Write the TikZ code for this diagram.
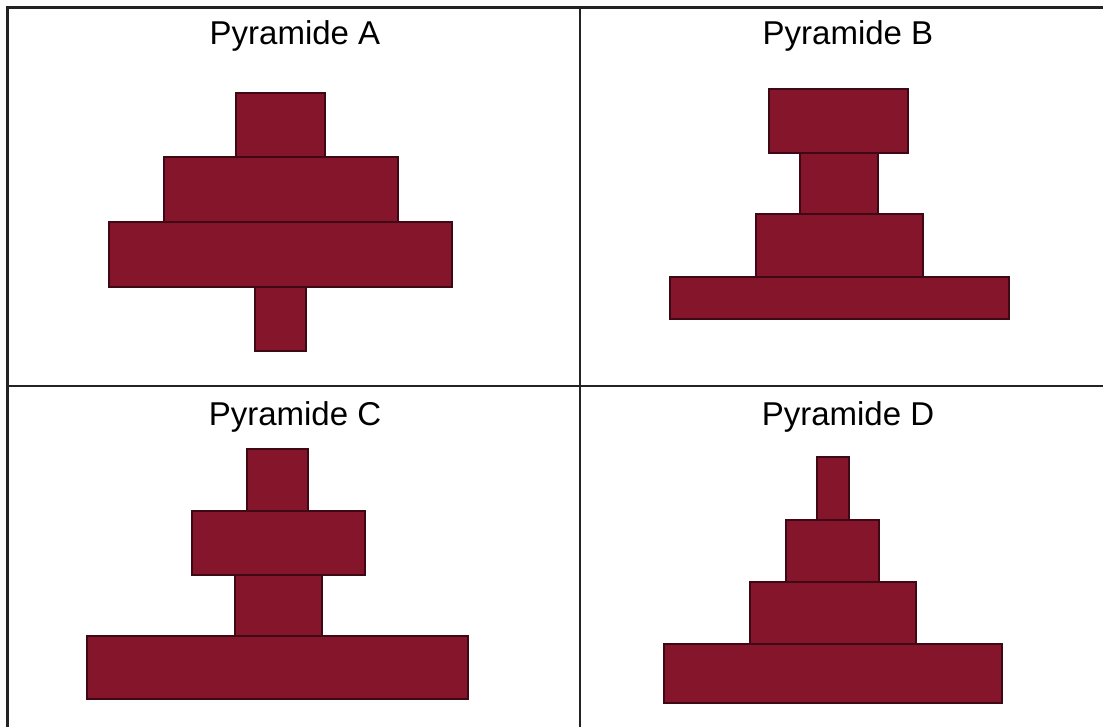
\documentclass[tikz,border=0pt]{standalone}
\usepackage{fontspec}
\setmainfont{Liberation Sans}
\definecolor{brick}{RGB}{132,21,43}
\definecolor{brickline}{RGB}{62,9,20}
\definecolor{gridline}{RGB}{35,35,35}
\begin{document}
\begin{tikzpicture}[x=1pt,y=-1pt,
  block/.style={fill=brick,draw=brickline,line width=2pt},
  grid/.style={draw=gridline,line width=2.1pt},
  title/.style={anchor=base,inner sep=0pt,font=\fontsize{33}{38}\selectfont}]
\useasboundingbox (0,0) rectangle (1103,727);
% table
\draw[grid] (7.5,727) -- (7.5,7.5) -- (1103,7.5);
\draw[grid] (580,7.5) -- (580,727);
\draw[grid] (7.5,385.7) -- (1103,385.7);
% titles
\node[title] (tA) at (295,45) {Pyramide A};
\node[title] (tB) at (848,45) {Pyramide B};
\node[title] (tC) at (295,425) {Pyramide C};
\node[title] (tD) at (848,425) {Pyramide D};
% Pyramide A
\draw[block] (254.5,287.3) rectangle (305.5,351);
\draw[block] (108.5,221.7) rectangle (451.5,287.3);
\draw[block] (163.5,157.3) rectangle (397.5,221.7);
\draw[block] (236,92.8) rectangle (324.5,157.3);
% Pyramide B
\draw[block] (670,276.7) rectangle (1009,319.3);
\draw[block] (756,214.3) rectangle (923,276.7);
\draw[block] (800,152.7) rectangle (878.3,214.3);
\draw[block] (768.5,89.5) rectangle (907.7,152.7);
% Pyramide C
\draw[block] (87,635.7) rectangle (467.5,699);
\draw[block] (234.5,575) rectangle (321.5,635.7);
\draw[block] (192,511) rectangle (365,575);
\draw[block] (247,448.5) rectangle (308.3,511);
% Pyramide D
\draw[block] (664,644) rectangle (1001.5,703);
\draw[block] (750,582.3) rectangle (915.5,644);
\draw[block] (786,520) rectangle (879.3,582.3);
\draw[block] (817,457) rectangle (849.3,520);
\end{tikzpicture}
\end{document}
